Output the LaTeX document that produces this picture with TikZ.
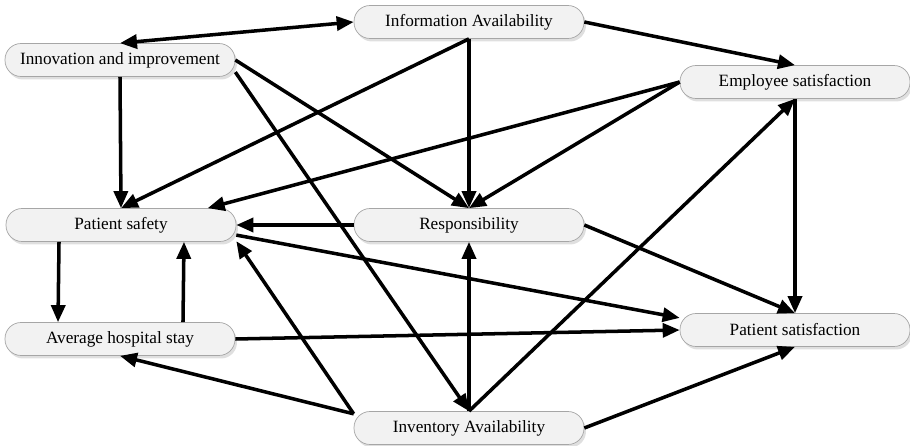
\documentclass[tikz,border=0pt]{standalone}
\usepackage{fontspec}
\setmainfont{Liberation Serif}
\usetikzlibrary{arrows.meta,shadows}

\begin{document}
\begin{tikzpicture}[x=0.02cm,y=-0.02cm]
  \tikzset{factor/.style = {shape=rectangle,draw=gray!70,fill=gray!10,rounded corners=0.32cm,minimum width=4.6cm,minimum height=0.66cm,inner sep=1pt,font=\fontsize{9.8}{11}\selectfont,drop shadow={opacity=0.25,shadow xshift=0.4mm,shadow yshift=-0.6mm}}}
  \tikzset{link/.style = {line width=2pt}}
  \tikzset{%
  tipA/.tip={Triangle[length=0.34cm,width=0.28cm]},
}
  \useasboundingbox (0,0) rectangle (910,446);

	\node[factor] (info) at (469,22) {Information Availability};
	\node[factor] (innov) at (120,60) {Innovation and improvement};
	\node[factor] (empl) at (795,82) {Employee satisfaction};
	
	\node[factor] (safety) at (121,225) {Patient safety};
	\node[factor] (resp) at (469,225) {Responsibility};
	
	\node[factor] (stay) at (120,339) {Average hospital stay};
	\node[factor] (psat) at (795,330) {Patient satisfaction};
	\node[factor] (inv) at (469,428) {Inventory Availability};
	
    \draw[link,tipA-tipA] (innov.north) -- (info.west);
    \draw[link,-tipA] ([xshift=-1.24cm]safety.south) -- ([xshift=-1.24cm]stay.north);
    \draw[link,-tipA] ([xshift=1.26cm]stay.north) -- ([xshift=1.26cm]safety.south);
    
    \foreach \from/\to in {info.east/empl.north, info.south/safety.north, info.south/resp.north,
      innov.south/safety.north, innov.east/resp.north, innov.-6/inv.north,
      empl.west/safety.11, empl.west/resp.north, empl.south/psat.north,
      resp.west/safety.east, resp.east/psat.north, safety.-5/psat.174, stay.east/psat.west,
      inv.173/stay.south, inv.173/safety.-8, inv.north/resp.south, inv.north/empl.south, inv.east/psat.south}
    \path[link,-tipA](\from) edge (\to);

\end{tikzpicture}
\end{document}
